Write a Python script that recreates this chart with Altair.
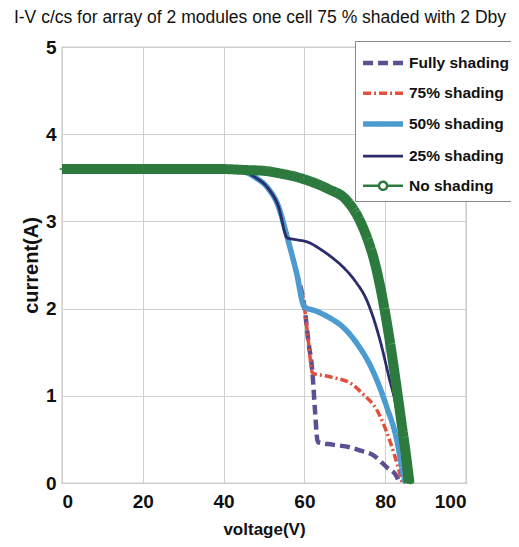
import altair as alt
import pandas as pd

series_names = ["Fully shading", "75% shading", "50% shading", "25% shading", "No shading"]
series_colors = ["#5e4f92", "#e0503c", "#4b9bd0", "#2a2c6b", "#2d7a3e"]
series_dash = [[10, 5], [8, 3, 2, 3], [1, 0], [1, 0], [1, 0]]
legend_width = [4.5, 3.5, 5.5, 2.8, 2.5]
green_width = 10

LINE_SYM = "M-1.07,0L1.89,0"
CIRCLE_SYM = "M-1.07,0L0.11,0M0.71,0L1.89,0M0.71,0A0.3,0.3 0 1,1 0.11,0A0.3,0.3 0 1,1 0.71,0"
series_shapes = [LINE_SYM, LINE_SYM, LINE_SYM, LINE_SYM, CIRCLE_SYM]

x_ticks = [0, 20, 40, 60, 80, 100]
y_ticks = [0, 1, 2, 3, 4, 5]

# No shading
v_none = [0, 10, 20, 30, 40, 45, 50, 54, 58, 62, 66, 70.3, 73.5, 76.2, 77, 79.4, 81.1, 82.5, 84, 85.2, 86]
i_none = [3.6, 3.6, 3.6, 3.6, 3.6, 3.59, 3.58, 3.55, 3.51, 3.45, 3.37, 3.25, 3.03, 2.72, 2.6, 2.1, 1.64, 1.2, 0.7, 0.3, 0.0]

# 25% shading
v_25 = [0, 10, 20, 30, 40, 45, 48, 51, 53.5, 55.8, 58, 61, 64, 67, 69.5, 72.5, 75.4, 78.7, 81, 82.8, 84, 85]
i_25 = [3.6, 3.6, 3.6, 3.6, 3.6, 3.57, 3.5, 3.38, 3.18, 2.81, 2.79, 2.76, 2.68, 2.58, 2.48, 2.32, 2.1, 1.64, 1.2, 0.85, 0.45, 0.0]

# 50% shading
v_50 = [0, 10, 20, 30, 40, 45, 48, 51, 53.5, 55.8, 58, 60, 63, 66, 69.5, 73, 77, 80.4, 82.9, 84.4, 85]
i_50 = [3.6, 3.6, 3.6, 3.6, 3.6, 3.57, 3.5, 3.38, 3.18, 2.81, 2.42, 2.02, 1.97, 1.9, 1.79, 1.6, 1.28, 0.87, 0.49, 0.11, 0.0]

# 75% shading
v_75 = [0, 10, 20, 30, 40, 45, 48, 51, 53.5, 55.8, 58, 60, 61, 62, 65, 68, 71.2, 74.5, 77.9, 81.1, 83.6, 84.2]
i_75 = [3.6, 3.6, 3.6, 3.6, 3.6, 3.57, 3.5, 3.38, 3.18, 2.81, 2.42, 2.02, 1.62, 1.26, 1.23, 1.2, 1.15, 1.02, 0.84, 0.49, 0.11, 0.0]

# Fully shading
v_full = [0, 10, 20, 30, 40, 45, 48, 51, 53.5, 55.8, 58, 60, 61, 62, 62.6, 63.3, 67, 71.2, 74, 77, 80.4, 82.9, 83.5]
i_full = [3.6, 3.6, 3.6, 3.6, 3.6, 3.57, 3.5, 3.38, 3.18, 2.81, 2.42, 2.02, 1.62, 1.26, 0.85, 0.47, 0.44, 0.41, 0.37, 0.32, 0.18, 0.07, 0.0]

frames = []
for name, vs, cs in [
    ("Fully shading", v_full, i_full),
    ("75% shading", v_75, i_75),
    ("50% shading", v_50, i_50),
    ("25% shading", v_25, i_25),
    ("No shading", v_none, i_none),
]:
    frames.append(pd.DataFrame({"voltage": vs, "current": cs, "series": name, "idx": range(len(vs))}))
df = pd.concat(frames, ignore_index=True)

FONT = "Liberation Sans"

x_enc = alt.X("voltage:Q", scale=alt.Scale(domain=[0, 100], nice=False),
              axis=alt.Axis(values=x_ticks, title="voltage(V)"))
y_enc = alt.Y("current:Q", scale=alt.Scale(domain=[0, 5], nice=False),
              axis=alt.Axis(values=y_ticks, title="current(A)"))
color_enc = alt.Color("series:O", sort=series_names,
                      scale=alt.Scale(type="ordinal", domain=series_names, range=series_colors),
                      legend=alt.Legend(title=None))

base = alt.Chart(df).mark_line(strokeCap="butt", strokeJoin="round", interpolate="monotone").encode(
    x=x_enc, y=y_enc,
    order=alt.Order("idx:Q"),
    color=color_enc,
    strokeDash=alt.StrokeDash("series:O", sort=series_names,
                              scale=alt.Scale(type="ordinal", domain=series_names, range=series_dash),
                              legend=alt.Legend(title=None)),
    strokeWidth=alt.StrokeWidth("series:O", sort=series_names,
                                scale=alt.Scale(type="ordinal", domain=series_names, range=legend_width),
                                legend=alt.Legend(title=None)),
)

layers = []
for n in series_names:
    lyr = base.transform_filter(alt.datum.series == n)
    if n == "No shading":
        lyr = lyr.encode(strokeWidth=alt.value(green_width))
    layers.append(lyr)

markers = alt.Chart(df).transform_filter(alt.datum.series == "No shading").mark_point(
    size=20, filled=False, strokeWidth=1.5, opacity=1
).encode(
    x=x_enc, y=y_enc, color=color_enc,
    shape=alt.Shape("series:O", sort=series_names,
                    scale=alt.Scale(type="ordinal", domain=series_names, range=series_shapes),
                    legend=alt.Legend(title=None)),
)
layers.append(markers)

chart = alt.layer(*layers).properties(
    width=404, height=436,
    autosize=alt.AutoSizeParams(type="none"),
    padding={"left": 54, "top": 39, "right": 45, "bottom": 58},
    title=alt.TitleParams(
        "I-V c/cs for array of 2 modules one cell 75 %  shaded with 2 Dby",
        font=FONT, fontSize=17.5, fontWeight="normal", color="#111", offset=12,
        anchor="middle", dx=-4,
    ),
).configure_view(
    stroke="#999", strokeWidth=1.2
).configure_axis(
    grid=True, gridColor="#d0d0d0", gridWidth=1,
    domain=False, ticks=False,
    labelFont=FONT, labelFontSize=19, labelFontWeight="bold", labelColor="#111",
    titleFont=FONT, titleFontWeight="bold", titleColor="#111",
).configure_axisX(
    labelPadding=9, titlePadding=10, titleFontSize=17,
).configure_axisY(
    labelPadding=6, titlePadding=4, titleFontSize=20,
).configure_legend(
    orient="none", legendX=293, legendY=-6,
    fillColor="white", strokeColor="#888", padding=6,
    symbolType=LINE_SYM, symbolSize=729, symbolOpacity=1, rowPadding=5.7,
    labelFont=FONT, labelFontSize=15.5, labelFontWeight="bold", labelColor="#111",
    labelLimit=200, labelOffset=15,
)

chart.save("out.html", embed_options={"renderer": "svg", "actions": False})
